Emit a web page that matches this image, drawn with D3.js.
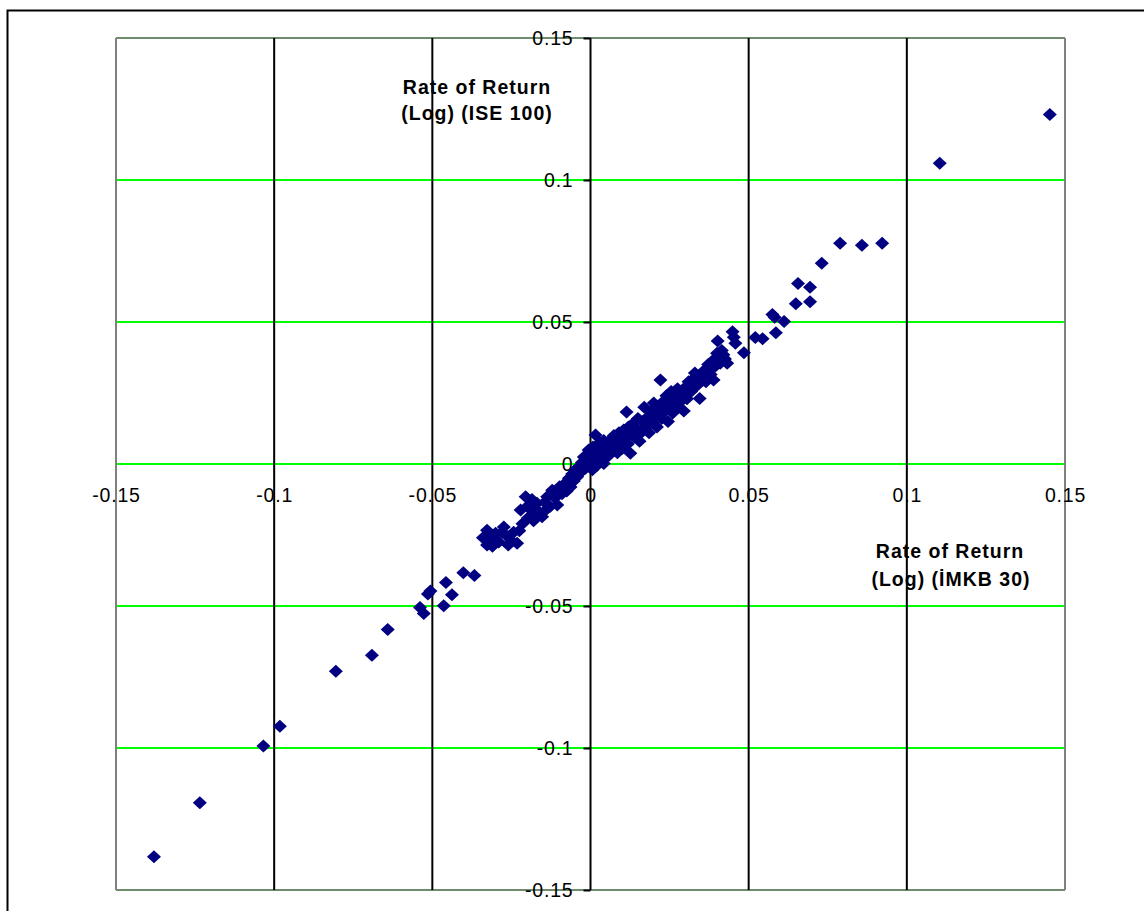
<!DOCTYPE html>
<html>
<head>
<meta charset="utf-8">
<script src="https://cdn.jsdelivr.net/npm/d3@7"></script>
<style>
  body { margin: 0; background: #fff; }
  text { font-family: "Liberation Sans", Arial, sans-serif; }
</style>
</head>
<body>
<svg id="chart" width="1144" height="911"></svg>
<script>
// ticks shown on both axes
var xTicks = [-0.15, -0.1, -0.05, 0, 0.05, 0.1, 0.15];
var yTicks = [-0.15, -0.1, -0.05, 0, 0.05, 0.1, 0.15];

// daily log returns: x = IMKB 30, y = ISE 100
var imkb30 = [
  -0.1380, -0.1235, -0.1034, -0.0982, -0.0805, -0.0691, -0.0641, -0.0539, -0.0527, -0.0514,
  -0.0506, -0.0464, -0.0457, -0.0438, -0.0402, -0.0367,
  -0.0327, -0.0327, -0.0316, -0.0300, -0.0290, -0.0274, -0.0263, -0.0250, -0.0243, -0.0232,
  -0.0221, -0.0215, -0.0205, -0.0198, -0.0190, -0.0180, -0.0169, -0.0160, -0.0153, -0.0145,
  -0.0137, -0.0128, -0.0121, -0.0112, -0.0105, -0.0098, -0.0090, -0.0083, -0.0075, -0.0068,
  -0.0063, -0.0058, -0.0053, -0.0048, -0.0042, -0.0037, -0.0032, -0.0027, -0.0021, -0.0016,
  -0.0010, -0.0006, 0.0000, 0.0003, 0.0006, 0.0010, 0.0016, 0.0016, 0.0021, 0.0025,
  0.0030, 0.0035, 0.0042, 0.0042, 0.0048, 0.0053, 0.0058, 0.0063, 0.0068, 0.0074,
  0.0080, 0.0085, 0.0090, 0.0095, 0.0100, 0.0105, 0.0110, 0.0114, 0.0118, 0.0126,
  0.0126, 0.0132, 0.0138, 0.0145, 0.0150, 0.0155, 0.0160, 0.0165, 0.0170, 0.0175,
  0.0180, 0.0185, 0.0190, 0.0195, 0.0200, 0.0205, 0.0210, 0.0215, 0.0221, 0.0225,
  0.0230, 0.0235, 0.0240, 0.0245, 0.0250, 0.0255, 0.0260, 0.0265, 0.0270, 0.0275,
  0.0280, 0.0290, 0.0295, 0.0300, 0.0305, 0.0310, 0.0318, 0.0325, 0.0335, 0.0345,
  0.0350, 0.0360, 0.0365, 0.0372, 0.0380, 0.0389, 0.0392, 0.0400, 0.0402, 0.0410,
  0.0420, 0.0432, 0.0449, 0.0453, 0.0458, 0.0485, 0.0521, 0.0544, 0.0575, 0.0582,
  0.0586, 0.0612, 0.0649, 0.0656, 0.0694, 0.0694, 0.0731, 0.0789, 0.0858, 0.0922,
  0.1104, 0.1452,
  -0.0340, -0.0310, -0.0280, -0.0260, -0.0225, -0.0200, -0.0185, -0.0175, -0.0140, -0.0115,
  -0.0085, -0.0070, -0.0045, -0.0025, 0.0008, 0.0028, 0.0050, 0.0070, 0.0088, 0.0120,
  0.0140, 0.0175, 0.0200, 0.0240, 0.0285, 0.0315, 0.0330, 0.0355, 0.0375, 0.0395,
  0.0415, 0.0425
];
var ise100 = [
  -0.1383, -0.1193, -0.0993, -0.0923, -0.0730, -0.0673, -0.0583, -0.0505, -0.0526, -0.0458,
  -0.0447, -0.0499, -0.0417, -0.0460, -0.0383, -0.0393,
  -0.0285, -0.0233, -0.0262, -0.0244, -0.0275, -0.0222, -0.0255, -0.0270, -0.0240, -0.0279,
  -0.0162, -0.0210, -0.0115, -0.0190, -0.0158, -0.0200, -0.0138, -0.0172, -0.0186, -0.0135,
  -0.0115, -0.0150, -0.0092, -0.0120, -0.0144, -0.0080, -0.0105, -0.0070, -0.0095, -0.0050,
  -0.0081, -0.0035, -0.0060, -0.0021, -0.0045, -0.0010, -0.0030, 0.0005, 0.0025, -0.0015,
  0.0010, 0.0049, 0.0000, 0.0039, -0.0020, 0.0020, 0.0102, 0.0060, -0.0004, 0.0035,
  0.0075, 0.0010, 0.0002, 0.0083, 0.0050, 0.0060, 0.0030, 0.0085, 0.0045, 0.0100,
  0.0070, 0.0040, 0.0110, 0.0080, 0.0055, 0.0120, 0.0090, 0.0183, 0.0070, 0.0038,
  0.0110, 0.0140, 0.0095, 0.0125, 0.0160, 0.0080, 0.0110, 0.0150, 0.0200, 0.0130,
  0.0165, 0.0110, 0.0185, 0.0145, 0.0215, 0.0170, 0.0130, 0.0195, 0.0296, 0.0160,
  0.0220, 0.0185, 0.0240, 0.0150, 0.0205, 0.0255, 0.0180, 0.0230, 0.0200, 0.0265,
  0.0215, 0.0245, 0.0187, 0.0270, 0.0230, 0.0290, 0.0255, 0.0300, 0.0275, 0.0231,
  0.0310, 0.0330, 0.0290, 0.0350, 0.0315, 0.0296, 0.0370, 0.0390, 0.0433, 0.0355,
  0.0385, 0.0355, 0.0466, 0.0446, 0.0425, 0.0392, 0.0445, 0.0441, 0.0526, 0.0517,
  0.0462, 0.0502, 0.0564, 0.0636, 0.0622, 0.0571, 0.0707, 0.0777, 0.0770, 0.0777,
  0.1059, 0.1231,
  -0.0260, -0.0290, -0.0240, -0.0285, -0.0235, -0.0150, -0.0125, -0.0175, -0.0160, -0.0105,
  -0.0090, -0.0065, -0.0030, -0.0005, 0.0060, 0.0050, 0.0030, 0.0075, 0.0060, 0.0130,
  0.0115, 0.0155, 0.0185, 0.0210, 0.0250, 0.0275, 0.0320, 0.0295, 0.0330, 0.0345,
  0.0400, 0.0370
];

var data = imkb30.map(function(d, i) { return {x: d, y: ise100[i]}; });

var plot = {left: 116, right: 1065, top: 38, bottom: 890};

var svg = d3.select("#chart");

// outer frame
svg.append("rect")
    .attr("x", 7.5).attr("y", 10.5)
    .attr("width", 1160).attr("height", 920)
    .attr("fill", "none")
    .attr("stroke", "#000")
    .attr("stroke-width", 2);

var xScale = d3.scaleLinear()
    .domain([-0.15, 0.15])
    .range([plot.left, plot.right]);

var yScale = d3.scaleLinear()
    .domain([-0.15, 0.15])
    .range([plot.bottom, plot.top]);

var fmt = function(d) { return String(+d.toFixed(2)); };

// horizontal gridlines (green)
svg.append("g")
  .selectAll("line")
  .data(yTicks)
  .enter().append("line")
    .attr("x1", plot.left).attr("x2", plot.right)
    .attr("y1", function(d) { return yScale(d); })
    .attr("y2", function(d) { return yScale(d); })
    .attr("stroke", function(d) { return Math.abs(d) === 0.15 ? "#6f8c6f" : "#00ff00"; })
    .attr("stroke-width", 2);

// vertical gridlines (black)
svg.append("g")
  .selectAll("line")
  .data(xTicks)
  .enter().append("line")
    .attr("y1", plot.top).attr("y2", plot.bottom)
    .attr("x1", function(d) { return xScale(d); })
    .attr("x2", function(d) { return xScale(d); })
    .attr("stroke", function(d) { return Math.abs(d) === 0.15 ? "#808080" : "#000"; })
    .attr("stroke-width", 2);

// y axis through x = 0
var yAxis = svg.append("g")
    .attr("transform", "translate(" + xScale(0) + ",0)")
    .call(d3.axisLeft(yScale).tickValues(yTicks).tickSize(7).tickPadding(10).tickFormat(fmt));
yAxis.select(".domain").remove();
yAxis.selectAll(".tick line").attr("stroke", "#000").attr("stroke-width", 2);
yAxis.selectAll("text").attr("font-size", 19.5).attr("fill", "#000")
    .style("font-family", "'Liberation Sans', Arial, sans-serif")
    .attr("letter-spacing", 0.8);

// x axis through y = 0
var xAxis = svg.append("g")
    .attr("transform", "translate(0," + yScale(0) + ")")
    .call(d3.axisBottom(xScale).tickValues(xTicks).tickSize(0).tickPadding(24).tickFormat(fmt));
xAxis.select(".domain").remove();
xAxis.selectAll("text").attr("font-size", 19.5).attr("fill", "#000")
    .style("font-family", "'Liberation Sans', Arial, sans-serif")
    .attr("letter-spacing", 0.8);

// points
var diamond = "M0,-6.5L7,0L0,6.5L-7,0Z";
svg.append("g")
  .selectAll("path")
  .data(data)
  .enter().append("path")
    .attr("d", diamond)
    .attr("transform", function(d) { return "translate(" + xScale(d.x) + "," + yScale(d.y) + ")"; })
    .attr("fill", "#000080");

// axis titles
var titles = [
  {x: 477, y: 94, t: "Rate of Return"},
  {x: 477, y: 120, t: "(Log) (ISE 100)"},
  {x: 950, y: 558, t: "Rate of Return"},
  {x: 951, y: 586, t: "(Log) (İMKB 30)"}
];
svg.append("g")
  .selectAll("text")
  .data(titles)
  .enter().append("text")
    .attr("x", function(d) { return d.x; })
    .attr("y", function(d) { return d.y; })
    .attr("text-anchor", "middle")
    .attr("font-size", 19.5)
    .attr("font-weight", "bold")
    .attr("letter-spacing", 1)
    .text(function(d) { return d.t; });
</script>
</body>
</html>
